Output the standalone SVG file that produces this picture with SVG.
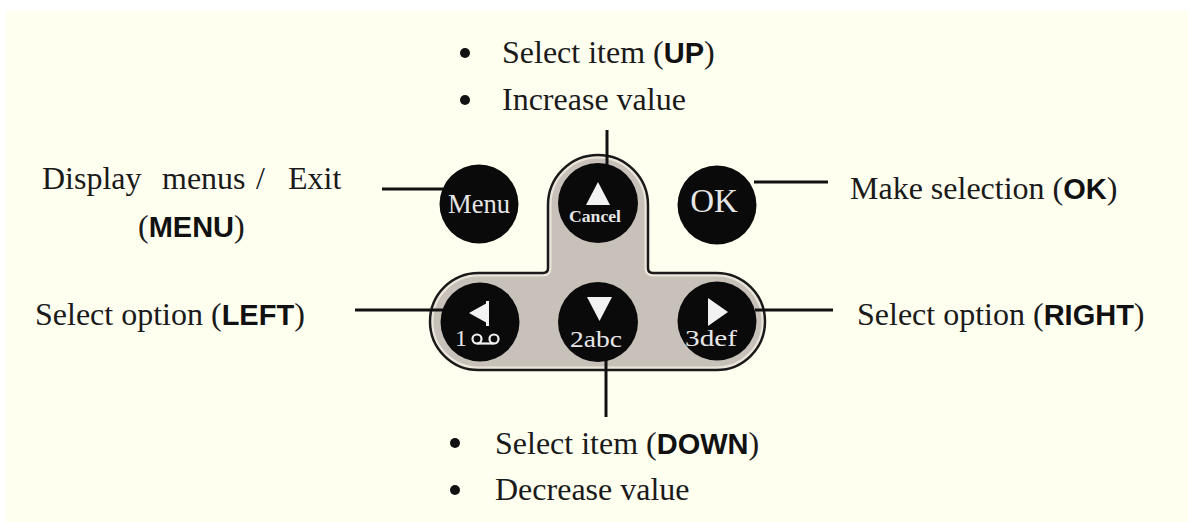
<svg xmlns="http://www.w3.org/2000/svg" width="1188" height="522" viewBox="0 0 1188 522">
<style>
.lbl{font-family:"Liberation Serif","Times New Roman",serif;font-size:32px;fill:#1a1a1a}
.key{font-family:"Liberation Sans",Arial,sans-serif;font-weight:bold;font-size:29px;fill:#111}
.btn{fill:#0a0a0a}
.btxt{font-family:"Liberation Serif","Times New Roman",serif;fill:#e6e6e6}
.glyph{fill:#f2f2f2}
.conn{stroke:#111;stroke-width:3;fill:none}
.bullet{fill:#111}
</style>
<defs>
<path id="padShape" d="M 478.5 273 H 543 Q 548 273 548 268 V 205 A 50 50 0 0 1 648 205 V 268 Q 648 273 653 273 H 716.5 A 48.5 48.5 0 0 1 716.5 370 H 478.5 A 48.5 48.5 0 0 1 478.5 273 Z"/>
<clipPath id="padClip"><use href="#padShape"/></clipPath>
</defs>
<rect x="0" y="0" width="1188" height="522" fill="#ffffff"/>
<rect x="6" y="11" width="1182" height="511" fill="#fffff0"/>

<g id="keypad">
<use href="#padShape" fill="#c8c1b9"/>
<use href="#padShape" fill="none" stroke="#ebe6dc" stroke-width="7" clip-path="url(#padClip)"/>
<use href="#padShape" fill="none" stroke="#1a1a1a" stroke-width="2.5"/>
</g>

<g id="connectors">
<line class="conn" x1="607" y1="130" x2="607" y2="166"/>
<line class="conn" x1="606" y1="358" x2="606" y2="417"/>
<line class="conn" x1="382" y1="189" x2="443" y2="189"/>
<line class="conn" x1="754" y1="182" x2="828" y2="182"/>
<line class="conn" x1="355" y1="310" x2="443" y2="310"/>
<line class="conn" x1="755" y1="310" x2="833" y2="310"/>
</g>

<g id="btn-menu">
<circle class="btn" cx="479" cy="204" r="39.5"/>
<text class="btxt" x="479" y="213" font-size="27" text-anchor="middle" textLength="62" lengthAdjust="spacingAndGlyphs">Menu</text>
</g>
<g id="btn-up">
<circle class="btn" cx="598" cy="203" r="40"/>
<polygon class="glyph" points="598,182 610,205 586,205"/>
<text class="btxt" x="595" y="222" font-size="16" font-weight="bold" text-anchor="middle" textLength="52" lengthAdjust="spacingAndGlyphs">Cancel</text>
</g>
<g id="btn-ok">
<circle class="btn" cx="717" cy="205" r="39.5"/>
<text class="btxt" x="714" y="212" font-size="33" text-anchor="middle">OK</text>
</g>
<g id="btn-left">
<circle class="btn" cx="480" cy="322" r="39.5"/>
<polygon class="glyph" points="469,313 487,303 487,323"/>
<rect class="glyph" x="486" y="301" width="3" height="25"/>
<text class="btxt" x="455" y="346" font-size="24">1</text>
<g fill="none" stroke="#f2f2f2" stroke-width="2.2">
<circle cx="477" cy="339" r="4.5"/>
<circle cx="494" cy="339" r="4.5"/>
<line x1="477" y1="343.5" x2="494" y2="343.5"/>
</g>
</g>
<g id="btn-down">
<circle class="btn" cx="598" cy="322" r="40"/>
<polygon class="glyph" points="587,297 612,297 599.5,321"/>
<text class="btxt" x="570" y="347" font-size="24" textLength="52" lengthAdjust="spacingAndGlyphs">2abc</text>
</g>
<g id="btn-right">
<circle class="btn" cx="717" cy="321" r="39.5"/>
<polygon class="glyph" points="708,298 708,326 728,312"/>
<text class="btxt" x="685" y="346" font-size="24" textLength="52" lengthAdjust="spacingAndGlyphs">3def</text>
</g>

<g id="label-up">
<circle class="bullet" cx="465" cy="53" r="5"/>
<text class="lbl" x="502" y="63">Select item (<tspan class="key">UP</tspan>)</text>
<circle class="bullet" cx="465" cy="100" r="5"/>
<text class="lbl" x="502" y="110">Increase value</text>
</g>
<g id="label-menu">
<text class="lbl" y="189"><tspan x="42">Display</tspan><tspan x="162">menus</tspan><tspan x="256">/</tspan><tspan x="288">Exit</tspan></text>
<text class="lbl" x="138" y="237">(<tspan class="key">MENU</tspan>)</text>
</g>
<g id="label-ok">
<text class="lbl" x="850" y="199">Make selection (<tspan class="key">OK</tspan>)</text>
</g>
<g id="label-left">
<text class="lbl" x="35" y="325">Select option (<tspan class="key">LEFT</tspan>)</text>
</g>
<g id="label-right">
<text class="lbl" x="857" y="325">Select option (<tspan class="key">RIGHT</tspan>)</text>
</g>
<g id="label-down">
<circle class="bullet" cx="455" cy="443" r="5"/>
<text class="lbl" x="495" y="454">Select item (<tspan class="key">DOWN</tspan>)</text>
<circle class="bullet" cx="455" cy="490" r="5"/>
<text class="lbl" x="495" y="500">Decrease value</text>
</g>
</svg>
